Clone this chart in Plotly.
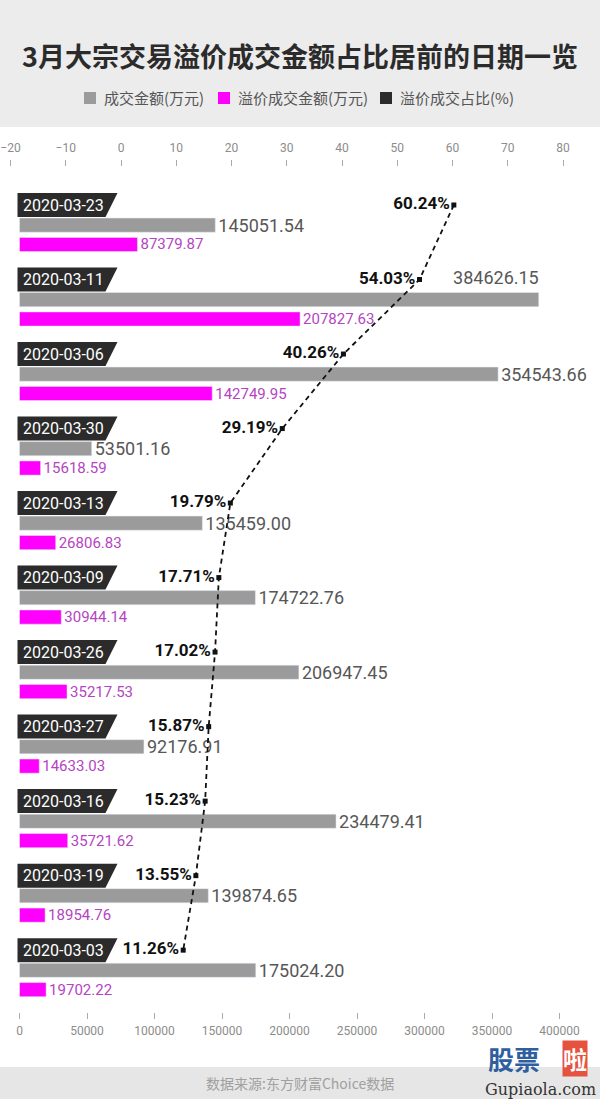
import plotly.graph_objects as go

# data, top to bottom
dates = ["2020-03-23", "2020-03-11", "2020-03-06", "2020-03-30", "2020-03-13", "2020-03-09",
         "2020-03-26", "2020-03-27", "2020-03-16", "2020-03-19", "2020-03-03"]
total = [145051.54, 384626.15, 354543.66, 53501.16, 135459.00, 174722.76,
         206947.45, 92176.91, 234479.41, 139874.65, 175024.20]
premium = [87379.87, 207827.63, 142749.95, 15618.59, 26806.83, 30944.14,
           35217.53, 14633.03, 35721.62, 18954.76, 19702.22]
ratio = [60.24, 54.03, 40.26, 29.19, 19.79, 17.71, 17.02, 15.87, 15.23, 13.55, 11.26]

title = "3月大宗交易溢价成交金额占比居前的日期一览"
legend_names = ["成交金额(万元)", "溢价成交金额(万元)", "溢价成交占比(%)"]
source = "数据来源:东方财富Choice数据"

W, H = 600, 1099
L, R, T, B = 10, 36, 167, 87
GRAY = "#9b9b9b"
MAG = "#ff00ff"
NUM = "Roboto"
CJK = "Noto Sans CJK SC"


def px(x):
    return (x - L) / (W - L - R)


def py(y):
    return (H - B - y) / (H - T - B)


rows = list(range(len(dates)))
gray_y = [r + 0.27 for r in rows]
mag_y = [r + 0.53 for r in rows]

big = total.index(max(total))
gray_text = ["" if i == big else f"{v:.2f}" for i, v in enumerate(total)]

fig = go.Figure()

fig.add_trace(go.Bar(
    x=total, y=gray_y, orientation="h", width=0.19, marker_color=GRAY,
    text=gray_text, textposition="outside", constraintext="none", cliponaxis=False,
    outsidetextfont=dict(family=NUM, size=18, color="#575757"),
    hoverinfo="skip", showlegend=False))

fig.add_trace(go.Bar(
    x=premium, y=mag_y, orientation="h", width=0.19, marker_color=MAG,
    text=[f"{v:.2f}" for v in premium], textposition="outside", constraintext="none",
    cliponaxis=False, outsidetextfont=dict(family=NUM, size=15, color="#b544c2"),
    hoverinfo="skip", showlegend=False))

# biggest value doesn't fit on the right, put it above the bar
fig.add_trace(go.Scatter(
    x=[total[big]], y=[rows[big]], mode="text", text=[f"{total[big]:.2f}"],
    textposition="middle left", cliponaxis=False,
    textfont=dict(family=NUM, size=18, color="#575757"),
    hoverinfo="skip", showlegend=False))

fig.add_trace(go.Scatter(
    x=ratio, y=rows, xaxis="x2", mode="lines+markers+text",
    line=dict(color="#111111", width=1.8, dash="5px,4px"),
    marker=dict(symbol="square", size=5, color="#111111"),
    text=[f"{v:.2f}%" for v in ratio], textposition="middle left",
    textfont=dict(family=NUM, size=17, color="#111111", weight="bold"),
    cliponaxis=False, hoverinfo="skip", showlegend=False))

shapes = []
annotations = []

# date tags
for r, d in zip(rows, dates):
    shapes.append(dict(
        type="path", xref="x", yref="y", xsizemode="pixel", ysizemode="pixel",
        xanchor=0, yanchor=r, path="M -2,12 L 98,12 L 86,-12 L -2,-12 Z",
        fillcolor="#2b2b2b", line=dict(width=0), layer="below"))
    annotations.append(dict(
        x=0, y=r, xref="x", yref="y", text=d, showarrow=False, xanchor="left",
        yanchor="middle", xshift=1, font=dict(family="Roboto", size=16, color="white")))

# header and footer bands
shapes.append(dict(type="rect", xref="paper", yref="paper", x0=px(0), x1=px(W),
                   y0=py(127), y1=py(0), fillcolor="#ececec", line=dict(width=0), layer="below"))
shapes.append(dict(type="rect", xref="paper", yref="paper", x0=px(0), x1=px(W),
                   y0=py(H), y1=py(1067), fillcolor="#e6e6e6", line=dict(width=0), layer="below"))


def note(x, y, text, font, xanchor="center", **kw):
    annotations.append(dict(x=px(x), y=py(y), xref="paper", yref="paper", showarrow=False,
                            xanchor=xanchor, yanchor="middle", text=text, font=font, **kw))


note(300, 55, f"<b>{title}</b>", dict(family=CJK, size=27, color="#2b2b2b"))

# legend drawn by hand
leg_colors = [GRAY, MAG, "#2b2b2b"]
leg_x = [90, 224, 386]
for c, x0, name in zip(leg_colors, leg_x, legend_names):
    shapes.append(dict(type="rect", xref="paper", yref="paper", x0=px(x0 - 6), x1=px(x0 + 6),
                       y0=py(104), y1=py(92), fillcolor=c, line=dict(width=0)))
    note(x0 + 12, 98, name, dict(family=CJK, size=15, color="#555555"), xanchor="left")

note(300, 1083, source, dict(family=CJK, size=14, color="#a0a0a0"))

# watermark
note(514, 1058, "<b>股票</b>", dict(family=CJK, size=26, color="#2f5f9f"))
note(575, 1058, "<b>啦</b>", dict(family=CJK, size=24, color="white"), bgcolor="#e5533f", borderpad=0)
note(540, 1089, "Gupiaola.com", dict(family="DejaVu Serif", size=16, color="#333333"))

fig.update_layout(
    width=W, height=H, autosize=False,
    margin=dict(l=L, r=R, t=T, b=B, autoexpand=False),
    paper_bgcolor="white", plot_bgcolor="white",
    barmode="overlay",
    xaxis=dict(range=[-7037, 403333], dtick=50000, tickformat="d", showgrid=False,
               zeroline=False, showline=False, ticks="outside", ticklen=6, tickcolor="#aaaaaa",
               ticklabelstandoff=2, automargin=False,
               tickfont=dict(family=NUM, size=12, color="#8c8c8c")),
    xaxis2=dict(range=[-20.09, 80.18], dtick=10, tick0=-20, overlaying="x", side="top",
                showgrid=False, zeroline=False, showline=False, ticks="outside", ticklen=6,
                tickcolor="#aaaaaa", ticklabelstandoff=3, automargin=False,
                tickfont=dict(family=NUM, size=12, color="#8c8c8c")),
    yaxis=dict(range=[10.83, -0.51], showgrid=False, zeroline=False, showticklabels=False,
               showline=False, automargin=False),
    shapes=shapes, annotations=annotations,
)

# pin the figure to the page corner
pin = ("document.documentElement.style.margin='0';document.body.style.margin='0';"
       "var gd=document.getElementById('{plot_id}');"
       "gd.style.position='absolute';gd.style.left='0px';gd.style.top='0px';")

fig.write_html("out.html", config={"displayModeBar": False}, post_script=pin)
